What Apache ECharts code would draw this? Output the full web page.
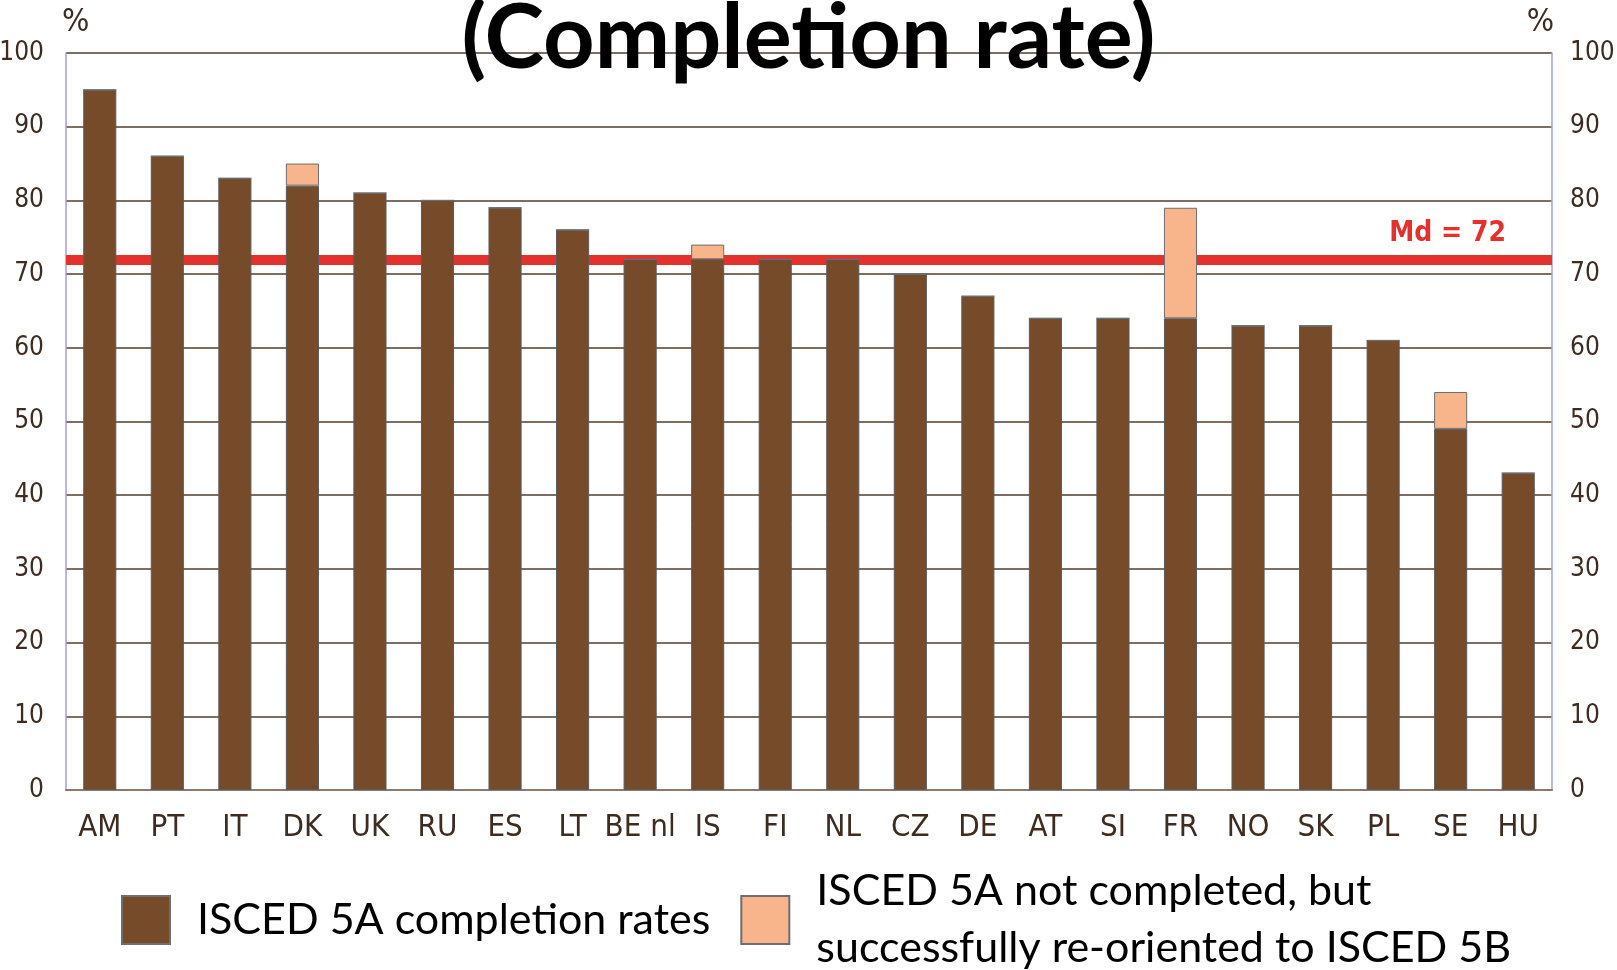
<!DOCTYPE html>
<html>
<head>
<meta charset="utf-8">
<script src="https://cdn.jsdelivr.net/npm/echarts@6/dist/echarts.min.js"></script>
<style>
html,body{margin:0;padding:0;background:#fff;}
#chart{width:1617px;height:970px;}
</style>
</head>
<body>
<div id="chart"></div>
<script>
const categories = ['AM','PT','IT','DK','UK','RU','ES','LT','BE nl','IS','FI','NL','CZ','DE','AT','SI','FR','NO','SK','PL','SE','HU'];
const completed = [95,86,83,82,81,80,79,76,72,72,72,72,70,67,64,64,64,63,63,61,49,43];
const reoriented = [0,0,0,3,0,0,0,0,0,2,0,0,0,0,0,0,15,0,0,0,5,0];
const median = 72;
const yTicks = {min:0, max:100, interval:10};
const seriesNames = ['ISCED 5A completion rates','ISCED 5A not completed, but\nsuccessfully re-oriented to ISCED 5B'];
const titleText = '(Completion rate)';

const tickFont = "'DejaVu Sans Condensed', 'Liberation Sans', sans-serif";
const tickColor = '#3e2c20';
const chart = echarts.init(document.getElementById('chart'));
const yAxisBase = {
  type:'value', min:yTicks.min, max:yTicks.max, interval:yTicks.interval,
  axisLine:{show:true, lineStyle:{color:'#a3a3d6', width:1.5}},
  axisTick:{show:false},
  axisLabel:{fontFamily:tickFont, fontSize:26, color:tickColor, margin:22},
  name:'%', nameGap:14,
  nameTextStyle:{fontFamily:tickFont, fontSize:32, color:tickColor}
};
chart.setOption({
  backgroundColor:'#ffffff',
  animation:false,
  title:{text:titleText, left:'center', top:-11,
    textStyle:{fontFamily:'Lato', fontWeight:'bold', fontSize:90, color:'#000'}},
  legend:{
    left:116, top:858, itemWidth:48, itemHeight:48, itemGap:30,
    icon:'rect',
    textStyle:{fontFamily:'Lato', fontSize:43, color:'#000', lineHeight:57, padding:[0,0,0,22]},
    itemStyle:{borderColor:'#6e6e6e', borderWidth:2}
  },
  grid:{left:66, right:65, top:53, bottom:180, outerBoundsMode:'none', containLabel:false},
  xAxis:{type:'category', data:categories,
    axisLine:{lineStyle:{color:'#8a7a70', width:2}},
    axisTick:{show:false},
    axisLabel:{fontFamily:tickFont, fontSize:31, color:tickColor, margin:22, interval:0}},
  yAxis:[
    Object.assign({}, yAxisBase, {position:'left',
      splitLine:{show:true, lineStyle:{color:'#7d6e64', width:2}},
      nameTextStyle:Object.assign({}, yAxisBase.nameTextStyle, {align:'left', padding:[0,0,0,-4]})}),
    Object.assign({}, yAxisBase, {position:'right', splitLine:{show:false},
      axisLabel:Object.assign({}, yAxisBase.axisLabel, {margin:18}),
      nameTextStyle:Object.assign({}, yAxisBase.nameTextStyle, {align:'right', padding:[0,-2,0,0]})})
  ],
  series:[
    {name:seriesNames[0], type:'bar', stack:'a', data:completed, barWidth:'49%', z:3,
      itemStyle:{color:'#754b29', borderColor:'#5b5b5b', borderWidth:1},
      markLine:{silent:true, symbol:'none', z:1,
        lineStyle:{color:'#e3312d', width:10, type:'solid'},
        label:{show:true, position:'insideEndTop', formatter:'Md = ' + median, distance:[46,12],
          fontFamily:tickFont, fontWeight:'bold', fontSize:28, color:'#e3312d'},
        data:[{yAxis:median}]}},
    {name:seriesNames[1], type:'bar', stack:'a', data:reoriented, barWidth:'49%', z:3,
      itemStyle:{color:'#f8b48a', borderColor:'#6e6e6e', borderWidth:1}}
  ]
});
</script>
</body>
</html>
